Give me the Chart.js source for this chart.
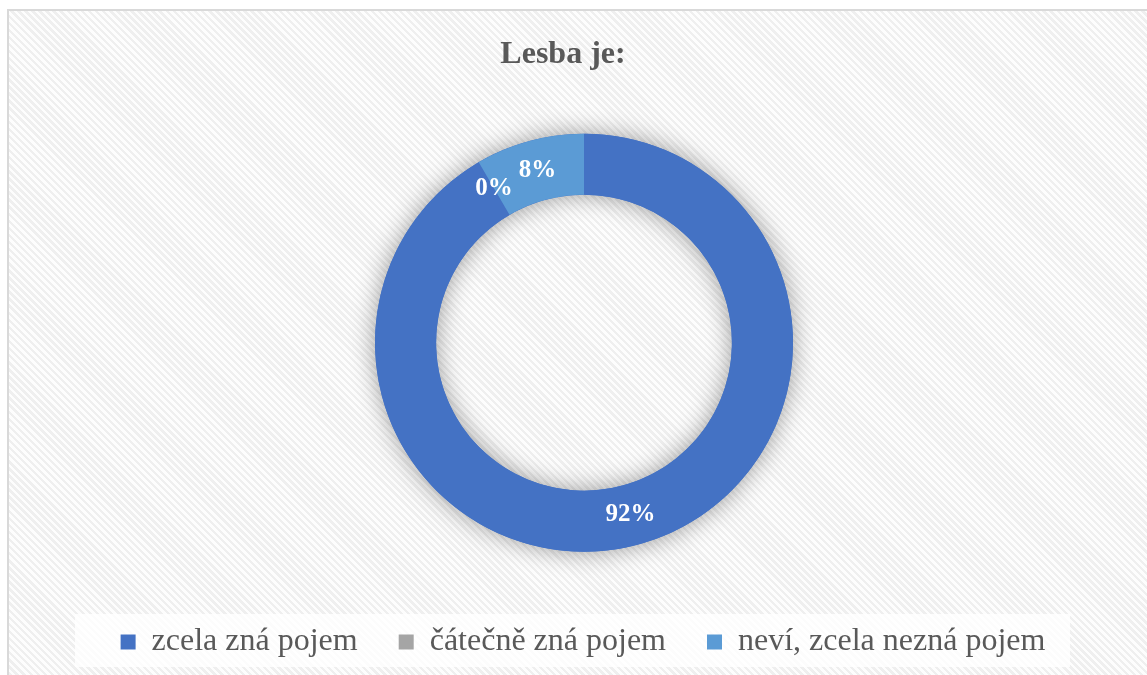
<!DOCTYPE html>
<html>
<head>
<meta charset="utf-8">
<title>Lesba je:</title>
<script src="https://cdn.jsdelivr.net/npm/chart.js@4.4.1/dist/chart.umd.min.js"></script>
<style>
  html, body { margin: 0; padding: 0; background: #fff; overflow: hidden; }
  #frame {
    position: absolute; left: 7px; top: 9px; width: 1200px; height: 700px;
    box-sizing: border-box; border: 2px solid #d9d9d9;
    background: repeating-linear-gradient(45deg, #fdfdfd 0 2.5px, #efefef 2.5px 5px);
  }
  #legendBg {
    position: absolute; left: 75px; top: 614px; width: 995px; height: 53px;
    background: rgba(255, 255, 255, 0.78);
  }
  #wrap { position: absolute; left: 0; top: 0; width: 1147px; height: 675px; }
</style>
</head>
<body>
<div id="frame"></div>
<div id="legendBg"></div>
<div id="wrap"><canvas id="chart"></canvas></div>
<script>
const chartTitle = 'Lesba je:';
const categories = ['zcela zná pojem', 'čátečně zná pojem', 'neví, zcela nezná pojem'];
const shares = [91.6, 0, 8.4];
const sliceColors = ['#4472C4', '#A5A5A5', '#5B9BD5'];

const serif = "'Liberation Serif', 'Times New Roman', serif";
const textGray = '#595959';
const titleShift = -21; // title sits a bit left of the ring centre
const legendShift = -1;

// soft shadow under the whole ring, drawn before the slices
const ringShadow = {
  id: 'ringShadow',
  beforeDatasetsDraw(chart) {
    const arc = chart.getDatasetMeta(0).data[0];
    if (!arc) return;
    const { x, y, outerRadius, innerRadius } = arc.getProps(['x', 'y', 'outerRadius', 'innerRadius'], true);
    const ctx = chart.ctx;
    ctx.save();
    ctx.shadowColor = 'rgba(0, 0, 0, 0.38)';
    ctx.shadowBlur = 24;
    ctx.fillStyle = sliceColors[0];
    ctx.beginPath();
    ctx.arc(x, y, outerRadius, 0, Math.PI * 2);
    ctx.arc(x, y, innerRadius, 0, Math.PI * 2, true);
    ctx.fill();
    ctx.restore();
  }
};

// percentage labels on each slice
const sliceLabels = {
  id: 'sliceLabels',
  afterDatasetsDraw(chart) {
    const ctx = chart.ctx;
    const data = chart.data.datasets[0].data;
    const total = data.reduce((s, v) => s + v, 0);
    ctx.save();
    ctx.font = `bold 25px ${serif}`;
    ctx.fillStyle = '#ffffff';
    ctx.textAlign = 'center';
    ctx.textBaseline = 'middle';
    chart.getDatasetMeta(0).data.forEach((el, i) => {
      const pos = el.tooltipPosition(true);
      ctx.fillText(Math.round(data[i] / total * 100) + '%', pos.x, pos.y);
    });
    ctx.restore();
  }
};

const nudgeBoxes = {
  id: 'nudgeBoxes',
  afterLayout(chart) {
    const t = chart.titleBlock;
    if (t) { t.left += titleShift; t.right += titleShift; }
    const l = chart.legend;
    if (l) { l.left += legendShift; l.right += legendShift; }
  }
};

new Chart(document.getElementById('chart'), {
  type: 'doughnut',
  data: {
    labels: categories,
    datasets: [{
      data: shares,
      backgroundColor: sliceColors,
      borderWidth: 0,
      radius: 209,
      cutout: '70.8%'
    }]
  },
  options: {
    responsive: true,
    maintainAspectRatio: false,
    animation: false,
    rotation: 0,
    layout: { padding: { left: 21, right: 0, top: 0, bottom: 7 } },
    plugins: {
      title: {
        display: true,
        text: chartTitle,
        color: textGray,
        font: { family: serif, size: 32, weight: 'bold' },
        padding: { top: 36, bottom: 26 }
      },
      legend: {
        position: 'bottom',
        labels: {
          boxWidth: 15,
          boxHeight: 15,
          padding: 41,
          color: textGray,
          font: { family: serif, size: 32 }
        }
      },
      tooltip: { enabled: false }
    }
  },
  plugins: [ringShadow, sliceLabels, nudgeBoxes]
});
</script>
</body>
</html>
